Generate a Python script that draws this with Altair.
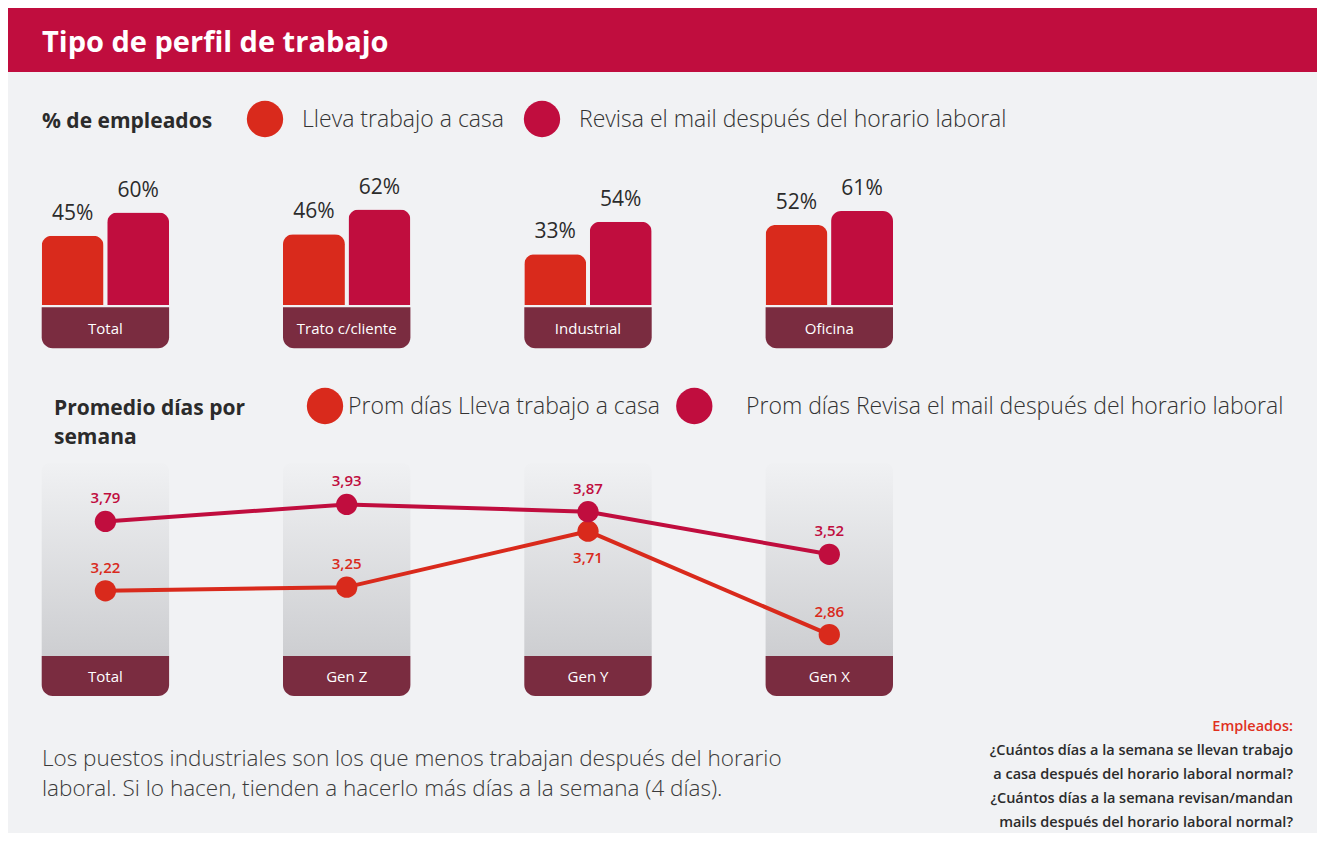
import altair as alt
import pandas as pd

# ---------------- data ----------------
series_names = ["Lleva trabajo a casa", "Revisa el mail después del horario laboral"]
series_colors = ["#d92a1c", "#c00d3e"]

top_categories = ["Total", "Trato c/cliente", "Industrial", "Oficina"]
lleva_pct = [45, 46, 33, 52]
revisa_pct = [60, 62, 54, 61]

bottom_categories = ["Total", "Gen Z", "Gen Y", "Gen X"]
lleva_days = [3.22, 3.25, 3.71, 2.86]
revisa_days = [3.79, 3.93, 3.87, 3.52]

rows = []
for i, c in enumerate(top_categories):
    rows.append({"slot": i, "cat": c, "series": series_names[0], "value": lleva_pct[i]})
    rows.append({"slot": i, "cat": c, "series": series_names[1], "value": revisa_pct[i]})
top_df = pd.DataFrame(rows)

rows = []
for i, c in enumerate(bottom_categories):
    rows.append({"slot": i, "cat": c, "series": series_names[0], "value": lleva_days[i]})
    rows.append({"slot": i, "cat": c, "series": series_names[1], "value": revisa_days[i]})
bottom_df = pd.DataFrame(rows)

top_slots = pd.DataFrame({"slot": list(range(4)), "cat": top_categories})
bottom_slots = pd.DataFrame({"slot": list(range(4)), "cat": bottom_categories})

# ---------------- style ----------------
W, H = 1309, 825
BG = "#f1f2f4"
RED_HEAD = "#c00d3e"
BOX = "#7a2c40"
DARK = "#2b2b2b"
FONT = "Open Sans"

def X():
    return alt.X("slot:O", axis=None,
                 scale=alt.Scale(range=[33.7, 885], paddingInner=0.472, paddingOuter=0))

def XOFF():
    return alt.XOffset("series:N", sort=series_names,
                       scale=alt.Scale(paddingInner=0.055, paddingOuter=0))

COLOR = alt.Color("series:N", scale=alt.Scale(domain=series_names, range=series_colors), legend=None)

Y_TOP = alt.Y("value:Q", axis=None, scale=alt.Scale(domain=[0, 100], range=[297, 143], zero=True))
Y_BOT = alt.Y("value:Q", axis=None, scale=alt.Scale(domain=[2.5, 4.0], range=[670.4, 487.9], zero=False))

one = pd.DataFrame({"t": [""]})

def note(text, x, y, size, color=DARK, weight="normal", align="left", baseline="alphabetic", font=FONT):
    return alt.Chart(pd.DataFrame({"t": [text]})).mark_text(
        font=font, fontSize=size, fontWeight=weight, color=color, align=align, baseline=baseline
    ).encode(x=alt.value(x), y=alt.value(y), text="t:N")

def dot(x, y, color, size):
    return alt.Chart(one).mark_point(filled=True, opacity=1, shape="circle", size=size, color=color).encode(
        x=alt.value(x), y=alt.value(y))

# ---------------- header ----------------
header = alt.Chart(one).mark_rect(color=RED_HEAD).encode(
    x=alt.value(0), x2=alt.value(W), y=alt.value(0), y2=alt.value(64))
title = note("Tipo de perfil de trabajo", 34, 44, 29, color="white", weight="bold")

# ---------------- legend row 1 ----------------
leg1 = [
    note("% de empleados", 34, 120, 21, weight="bold"),
    dot(257, 111, series_colors[0], 1320),
    note(series_names[0], 294, 119, 23, color="#333333", weight=300),
    dot(534, 111, series_colors[1], 1320),
    note(series_names[1], 571, 119, 23, color="#333333", weight=300),
]

# ---------------- top bars ----------------
top_bars = alt.Chart(top_df).mark_bar(cornerRadiusTopLeft=10, cornerRadiusTopRight=10).encode(
    x=X(), xOffset=XOFF(), y=Y_TOP, color=COLOR)
top_labels = alt.Chart(top_df).transform_calculate(
    lab="format(datum.value, 'd') + '%'"
).mark_text(font=FONT, fontSize=21, fontWeight=500, color=DARK, baseline="alphabetic", dy=-16).encode(
    x=X(), xOffset=XOFF(), y=Y_TOP, text="lab:N")
top_boxes = alt.Chart(top_slots).mark_bar(color=BOX, cornerRadiusBottomLeft=11, cornerRadiusBottomRight=11).encode(
    x=X(), y=alt.value(299.3), y2=alt.value(340.3))
top_box_text = alt.Chart(top_slots).mark_text(font=FONT, fontSize=15, fontWeight=500, color="white").encode(
    x=X(), y=alt.value(320.5), text="cat:N")

# ---------------- legend row 2 ----------------
leg2 = [
    note("Promedio días por", 46, 407, 21, weight="bold"),
    note("semana", 46, 436, 21, weight="bold"),
    dot(317, 398, series_colors[0], 1320),
    note("Prom días " + series_names[0], 340, 406, 23, color="#333333", weight=300),
    dot(686.3, 398, series_colors[1], 1320),
    note("Prom días " + series_names[1], 738, 406, 23, color="#333333", weight=300),
]

# ---------------- bottom columns ----------------
grad = alt.Gradient(
    gradient="linear",
    stops=[alt.GradientStop(color="#f0f1f3", offset=0), alt.GradientStop(color="#cdced1", offset=1)],
    x1=0, x2=0, y1=0, y2=1)
columns = alt.Chart(bottom_slots).mark_bar(color=grad, cornerRadiusTopLeft=8, cornerRadiusTopRight=8).encode(
    x=X(), y=alt.value(455), y2=alt.value(648))
bot_boxes = alt.Chart(bottom_slots).mark_bar(color=BOX, cornerRadiusBottomLeft=11, cornerRadiusBottomRight=11).encode(
    x=X(), y=alt.value(648), y2=alt.value(688))
bot_box_text = alt.Chart(bottom_slots).mark_text(font=FONT, fontSize=15, fontWeight=500, color="white").encode(
    x=X(), y=alt.value(668.5), text="cat:N")

lines = alt.Chart(bottom_df).mark_line(strokeWidth=4, strokeJoin="round").encode(
    x=X(), y=Y_BOT, color=COLOR, detail="series:N")
points = alt.Chart(bottom_df).mark_point(filled=True, opacity=1, shape="circle", size=452).encode(
    x=X(), y=Y_BOT, color=COLOR)
below_cond = "datum.cat == 'Gen Y' && datum.series == '%s'" % series_names[0]
lab_calc = "replace(format(datum.value, '.2f'), '.', ',')"
labels_above = alt.Chart(bottom_df).transform_filter("!(" + below_cond + ")").transform_calculate(
    lab=lab_calc
).mark_text(font=FONT, fontSize=15, fontWeight=600, baseline="alphabetic", dy=-18).encode(
    x=X(), y=Y_BOT, color=COLOR, text="lab:N")
labels_below = alt.Chart(bottom_df).transform_filter(below_cond).transform_calculate(
    lab=lab_calc
).mark_text(font=FONT, fontSize=15, fontWeight=600, baseline="alphabetic", dy=32).encode(
    x=X(), y=Y_BOT, color=COLOR, text="lab:N")

# ---------------- footnotes ----------------
para = [
    note("Los puestos industriales son los que menos trabajan después del horario", 34, 758, 22.5,
         color="#3a3a3a", weight=300),
    note("laboral. Si lo hacen, tienden a hacerlo más días a la semana (4 días).", 34, 788, 22.5,
         color="#3a3a3a", weight=300),
]
side = [
    note("Empleados:", 1285, 723, 14.5, color="#e0301e", weight=600, align="right"),
    note("¿Cuántos días a la semana se llevan trabajo", 1285, 747, 14.5, weight=600, align="right"),
    note("a casa después del horario laboral normal?", 1285, 771, 14.5, weight=600, align="right"),
    note("¿Cuántos días a la semana revisan/mandan", 1285, 795, 14.5, weight=600, align="right"),
    note("mails después del horario laboral normal?", 1285, 819, 14.5, weight=600, align="right"),
]

layers = [header, title] + leg1 + [top_bars, top_labels, top_boxes, top_box_text] + leg2 + \
    [columns, bot_boxes, bot_box_text, lines, points, labels_above, labels_below] + para + side

chart = alt.layer(*layers).resolve_scale(y="independent").properties(
    width=W, height=H, background=BG, padding=0, autosize=alt.AutoSizeParams(type="none")
).configure_view(strokeWidth=0)

chart.save("out.html", embed_options={"renderer": "svg", "actions": False})
